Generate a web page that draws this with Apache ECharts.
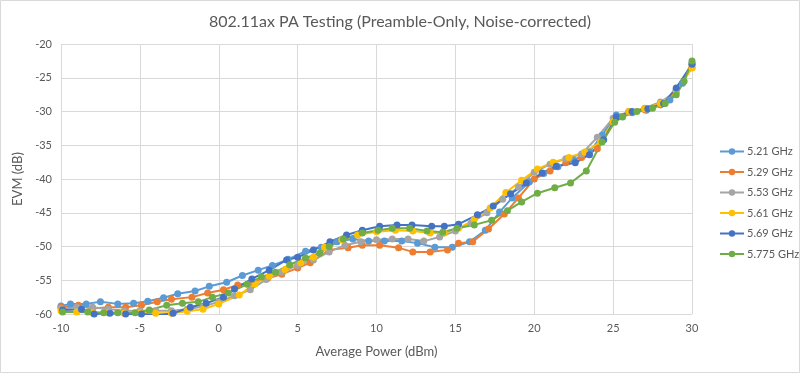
<!DOCTYPE html>
<html>
<head>
<meta charset="utf-8">
<script src="https://cdn.jsdelivr.net/npm/echarts@6/dist/echarts.min.js"></script>
<style>html,body{margin:0;padding:0;background:#fff}#c{width:800px;height:373px}</style>
</head>
<body>
<div id="c"></div>
<script>
var seriesNames = ['5.21 GHz','5.29 GHz','5.53 GHz','5.61 GHz','5.69 GHz','5.775 GHz'];
var colors = ['#5B9BD5','#ED7D31','#A5A5A5','#FFC000','#4472C4','#70AD47'];

var x521 = [-10,-9.4,-8.4,-7.5,-6.4,-5.4,-4.5,-3.5,-2.6,-1.5,-0.6,0.5,1.5,2.5,3.4,4.4,5.5,6.5,7.5,8.5,9.5,10.5,11.6,12.6,13.7,14.8,15.9,16.9,17.8,18.6,19.7,20.6,21.5,22.5,23.5,24.3,25.2,26.2,27.1,28.0,28.6,29.0,29.4,30];
var y521 = [-58.8,-58.5,-58.5,-58.2,-58.5,-58.4,-58.1,-57.6,-57.0,-56.6,-55.9,-55.3,-54.3,-53.5,-52.8,-51.9,-50.7,-50.1,-49.3,-48.9,-49.2,-49.2,-49.2,-49.5,-50.1,-50.1,-49.3,-47.6,-44.9,-42.8,-40.4,-39.2,-38.2,-37.2,-36.0,-33.5,-30.5,-30.2,-29.8,-29.0,-28.3,-26.7,-25.8,-23.0];

var x529 = [-10,-8.9,-8.0,-7.0,-5.9,-4.9,-3.9,-3.0,-1.7,-0.7,0.3,1.2,2.1,3.1,4.0,5.0,5.8,7.0,8.2,9.1,10.2,11.4,12.3,13.4,14.5,15.2,16.1,17.1,18.1,19.0,20.0,21.0,22.0,23.0,24.0,25.0,26.0,27.0,28.0,29.0,30];
var y529 = [-59.0,-58.7,-59.2,-59.0,-59.0,-58.7,-58.2,-57.8,-57.5,-56.9,-56.4,-55.7,-55.3,-54.7,-54.1,-53.2,-52.4,-50.5,-50.2,-49.8,-49.8,-50.2,-50.8,-50.8,-50.5,-49.5,-49.3,-47.4,-45.2,-42.8,-40.0,-38.8,-37.6,-36.8,-35.5,-31.5,-30.0,-29.7,-29.0,-27.0,-23.5];

var x553 = [-10,-9,-8,-7,-6,-5,-4,-3,-2,-1,0,1,2,3,4,5,6,7,8,9,10,11,12,13,14,15,16,17,18,19,20,21,22,23,24,25,26,27,28,29,30];
var y553 = [-59.2,-59.0,-59.0,-59.3,-59.5,-59.5,-59.5,-59.5,-59.3,-58.9,-58.2,-57.3,-56.4,-54.9,-53.8,-52.8,-52.0,-50.8,-49.8,-49.3,-49.0,-48.9,-48.9,-49.2,-48.6,-47.7,-46.5,-45.0,-43.0,-41.2,-39.0,-37.8,-37.0,-36.3,-33.8,-31.0,-30.0,-29.5,-28.6,-27.0,-22.8];

var x561 = [-10,-9,-8,-7,-6,-5,-4,-3,-2,-1,0,1.3,2.3,3.2,4.2,5.2,6.0,6.7,7.8,8.8,10.0,11.2,12.3,13.4,14.3,15.2,16.2,17.2,18.2,19.2,20.2,21.2,22.2,23.2,24.2,25.0,26.0,27.0,28.0,29.0,30];
var y561 = [-59.5,-59.7,-59.8,-59.8,-59.9,-59.8,-59.9,-59.9,-59.6,-59.3,-58.5,-57.2,-55.5,-54.4,-53.4,-52.4,-51.6,-50.1,-49.0,-48.3,-47.8,-47.6,-47.7,-48.0,-48.0,-47.3,-46.0,-44.3,-42.0,-40.2,-38.5,-37.5,-36.8,-36.0,-34.5,-31.5,-30.0,-29.6,-28.8,-27.0,-23.5];

var x569 = [-9.9,-8.7,-7.9,-6.9,-5.9,-4.9,-3.9,-2.9,-1.8,-0.8,0.3,1.0,2.1,3.2,4.3,5.0,6.0,7.05,8.1,9.1,10.2,11.3,12.25,13.5,14.3,15.2,16.4,17.4,18.5,19.5,20.5,21.4,22.6,23.5,24.4,25.2,26.2,27.2,28.2,29.0,30];
var y569 = [-59.4,-59.3,-60.0,-59.9,-60.0,-60.0,-60.2,-59.9,-59.0,-58.4,-57.5,-56.3,-54.8,-53.5,-52.0,-51.6,-50.5,-49.3,-48.3,-47.6,-47.0,-46.8,-46.8,-47.0,-47.0,-46.7,-45.3,-44.0,-42.2,-40.6,-39.1,-38.1,-37.6,-36.4,-34.2,-30.8,-30.0,-29.6,-28.8,-26.5,-23.0];

var x5775 = [-9.9,-8.3,-7.3,-6.4,-5.3,-4.4,-3.3,-2.3,-1.3,-0.4,0.6,1.8,2.7,3.6,4.5,5.5,6.4,7.0,7.9,9.1,10.1,11.0,12.1,13.2,14.2,15.1,16.2,17.3,18.3,19.2,20.2,21.3,22.3,23.3,24.3,25.1,25.6,26.5,27.5,28.3,29.0,29.5,30];
var y5775 = [-59.7,-59.7,-59.8,-59.8,-59.8,-59.4,-58.7,-58.4,-58.2,-57.5,-56.9,-55.6,-54.5,-53.8,-52.7,-51.7,-51.0,-50.0,-48.9,-48.0,-47.6,-47.3,-47.3,-47.7,-47.9,-47.3,-46.8,-46.1,-44.7,-43.4,-42.1,-41.3,-40.6,-38.8,-34.5,-31.6,-30.8,-30.0,-29.5,-28.8,-27.5,-25.5,-22.5];

var xTicks = [-10,-5,0,5,10,15,20,25,30];
var yTicks = [-60,-55,-50,-45,-40,-35,-30,-25,-20];

var xs = [x521,x529,x553,x561,x569,x5775];
var ys = [y521,y529,y553,y561,y569,y5775];

function pairs(a,b){ return a.map(function(v,i){ return [v,b[i]]; }); }

var FONT = 'Lato, "Open Sans", sans-serif';
var series = seriesNames.map(function(n,i){
  return {
    name:n, type:'line', data:pairs(xs[i],ys[i]),
    symbol:'circle', symbolSize:7, showSymbol:true,
    lineStyle:{width:2,color:colors[i]},
    itemStyle:{color:colors[i]},
    emphasis:{disabled:true}, animation:false
  };
});

var chart = echarts.init(document.getElementById('c'),null,{renderer:'canvas'});
chart.setOption({
  animation:false,
  color:colors,
  title:{text:'802.11ax PA Testing (Preamble-Only, Noise-corrected)',left:'center',top:9,
    textStyle:{fontFamily:FONT,fontSize:16,fontWeight:'normal',color:'#595959'}},
  graphic:[{type:'rect',shape:{x:0.5,y:0.5,width:799,height:372},style:{fill:'none',stroke:'#D9D9D9',lineWidth:1},silent:true}],
  legend:{orient:'vertical',left:714,top:141,itemGap:9.5,itemWidth:24,itemHeight:8,
    textStyle:{fontFamily:FONT,fontSize:11,color:'#595959',padding:[0,0,0,-2]},
    data:seriesNames},
  grid:{left:61,right:108,top:44,bottom:59,containLabel:false},
  xAxis:{type:'value',min:-10,max:30,interval:5,
    name:'Average Power (dBm)',nameLocation:'middle',nameGap:31,
    nameTextStyle:{fontFamily:FONT,fontSize:13,color:'#595959'},
    axisLine:{show:false},axisTick:{show:false},
    axisLabel:{fontFamily:FONT,fontSize:11,color:'#595959',margin:9},
    splitLine:{show:true,lineStyle:{color:'#D9D9D9',width:1}}},
  yAxis:{type:'value',min:-60,max:-20,interval:5,
    name:'EVM (dB)',nameLocation:'middle',nameGap:31,nameRotate:90,
    nameTextStyle:{fontFamily:FONT,fontSize:13,color:'#595959'},
    axisLine:{show:false},axisTick:{show:false},
    axisLabel:{fontFamily:FONT,fontSize:11,color:'#595959',margin:9},
    splitLine:{show:true,lineStyle:{color:'#D9D9D9',width:1}}},
  series:series
});
</script>
</body>
</html>
